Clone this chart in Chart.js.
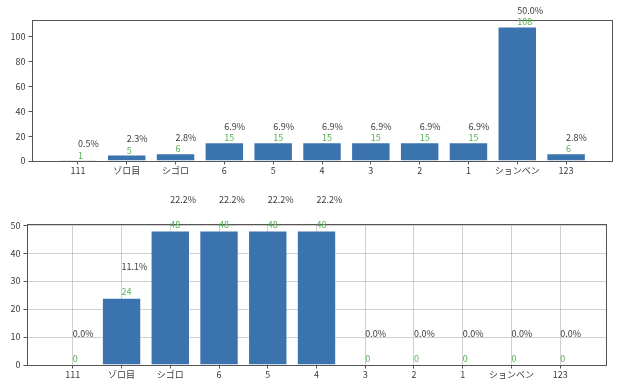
<!DOCTYPE html>
<html>
<head>
<meta charset="utf-8">
<script src="https://cdn.jsdelivr.net/npm/chart.js@4"></script>
<style>
  body { margin: 0; background: #fff; }
  #wrap { position: relative; width: 640px; height: 391px; }
  canvas { position: absolute; left: 0; }
  #topChart { top: 0; }
  #bottomChart { top: 180px; }
</style>
</head>
<body>
<div id="wrap">
  <canvas id="topChart" width="640" height="180"></canvas>
  <canvas id="bottomChart" width="640" height="211"></canvas>
</div>
<script>
// data
const categories = ["111", "ゾロ目", "シゴロ", "6", "5", "4", "3", "2", "1", "ションベン", "123"];
const countsTop = [1, 5, 6, 15, 15, 15, 15, 15, 15, 108, 6];
const countsBottom = [0, 24, 48, 48, 48, 48, 0, 0, 0, 0, 0];
const yTicksTop = [0, 20, 40, 60, 80, 100];
const yTicksBottom = [0, 10, 20, 30, 40, 50];
const yMaxTop = 113.4;
const yMaxBottom = 50.4;

const FONT = { family: "'Noto Sans CJK JP', 'Noto Sans', sans-serif", size: 9 };
const TEXT = "#3a3a3a";
const GREEN = "#55b055";
const BAR = "#3a73ad";

// percent + count labels, and the box round the axes
const barLabels = {
  id: "barLabels",
  afterDraw(chart) {
    const ctx = chart.ctx;
    const xs = chart.scales.x, ys = chart.scales.y;
    const pts = chart.data.datasets[0].data;
    const total = pts.reduce((a, p) => a + p.y, 0);
    const area = chart.chartArea;
    ctx.save();
    ctx.strokeStyle = "#555";
    ctx.lineWidth = 1;
    ctx.strokeRect(Math.round(area.left) + 0.5, Math.round(area.top) + 0.5,
      Math.round(area.right - area.left), Math.round(area.bottom - area.top));
    ctx.font = `${FONT.size}px ${FONT.family}`;
    ctx.textAlign = "left";
    ctx.textBaseline = "alphabetic";
    pts.forEach(p => {
      const x = xs.getPixelForValue(p.x);
      ctx.fillStyle = TEXT;
      ctx.fillText((p.y / total * 100).toFixed(1) + "%", x, ys.getPixelForValue(p.y + 10));
      ctx.fillStyle = GREEN;
      ctx.fillText(String(p.y), x, ys.getPixelForValue(p.y + 1));
    });
    ctx.restore();
  }
};

function makeChart(id, counts, yTicks, yMax, grid, box) {
  const ctx = document.getElementById(id).getContext("2d");
  return new Chart(ctx, {
    type: "bar",
    data: {
      datasets: [{
        data: counts.map((v, i) => ({ x: i, y: v })),
        backgroundColor: BAR,
        borderColor: "rgba(255,255,255,0.5)",
        borderWidth: 0.8,
        categoryPercentage: 0.8,
        barPercentage: 1
      }]
    },
    options: {
      responsive: false,
      animation: false,
      layout: { padding: { left: 0, right: box.right, top: box.top, bottom: 0 } },
      plugins: { legend: { display: false }, tooltip: { enabled: false } },
      scales: {
        x: {
          type: "linear",
          min: -0.94,
          max: 10.94,
          offset: false,
          z: grid ? 1 : 0,
          afterBuildTicks: s => { s.ticks = categories.map((_, i) => ({ value: i })); },
          afterFit: s => { s.height = box.xh; },
          border: { display: false },
          grid: {
            offset: false,
            drawOnChartArea: grid,
            color: "rgba(176,176,176,0.6)",
            tickColor: "#555",
            tickLength: 3.5
          },
          ticks: {
            callback: v => categories[v],
            color: TEXT,
            font: FONT,
            padding: 1,
            autoSkip: false,
            maxRotation: 0
          }
        },
        y: {
          min: 0,
          max: yMax,
          z: grid ? 1 : 0,
          afterBuildTicks: s => { s.ticks = yTicks.map(v => ({ value: v })); },
          afterFit: s => { s.width = box.yw; },
          border: { display: false },
          grid: {
            drawOnChartArea: grid,
            color: "rgba(176,176,176,0.6)",
            tickColor: "#555",
            tickLength: 3.5
          },
          ticks: { color: TEXT, font: FONT, padding: 3 }
        }
      }
    },
    plugins: [barLabels]
  });
}

makeChart("topChart", countsTop, yTicksTop, yMaxTop, false, { right: 28, top: 20, xh: 19, yw: 32 });
makeChart("bottomChart", countsBottom, yTicksBottom, yMaxBottom, true, { right: 34, top: 44, xh: 26, yw: 27 });
</script>
</body>
</html>
